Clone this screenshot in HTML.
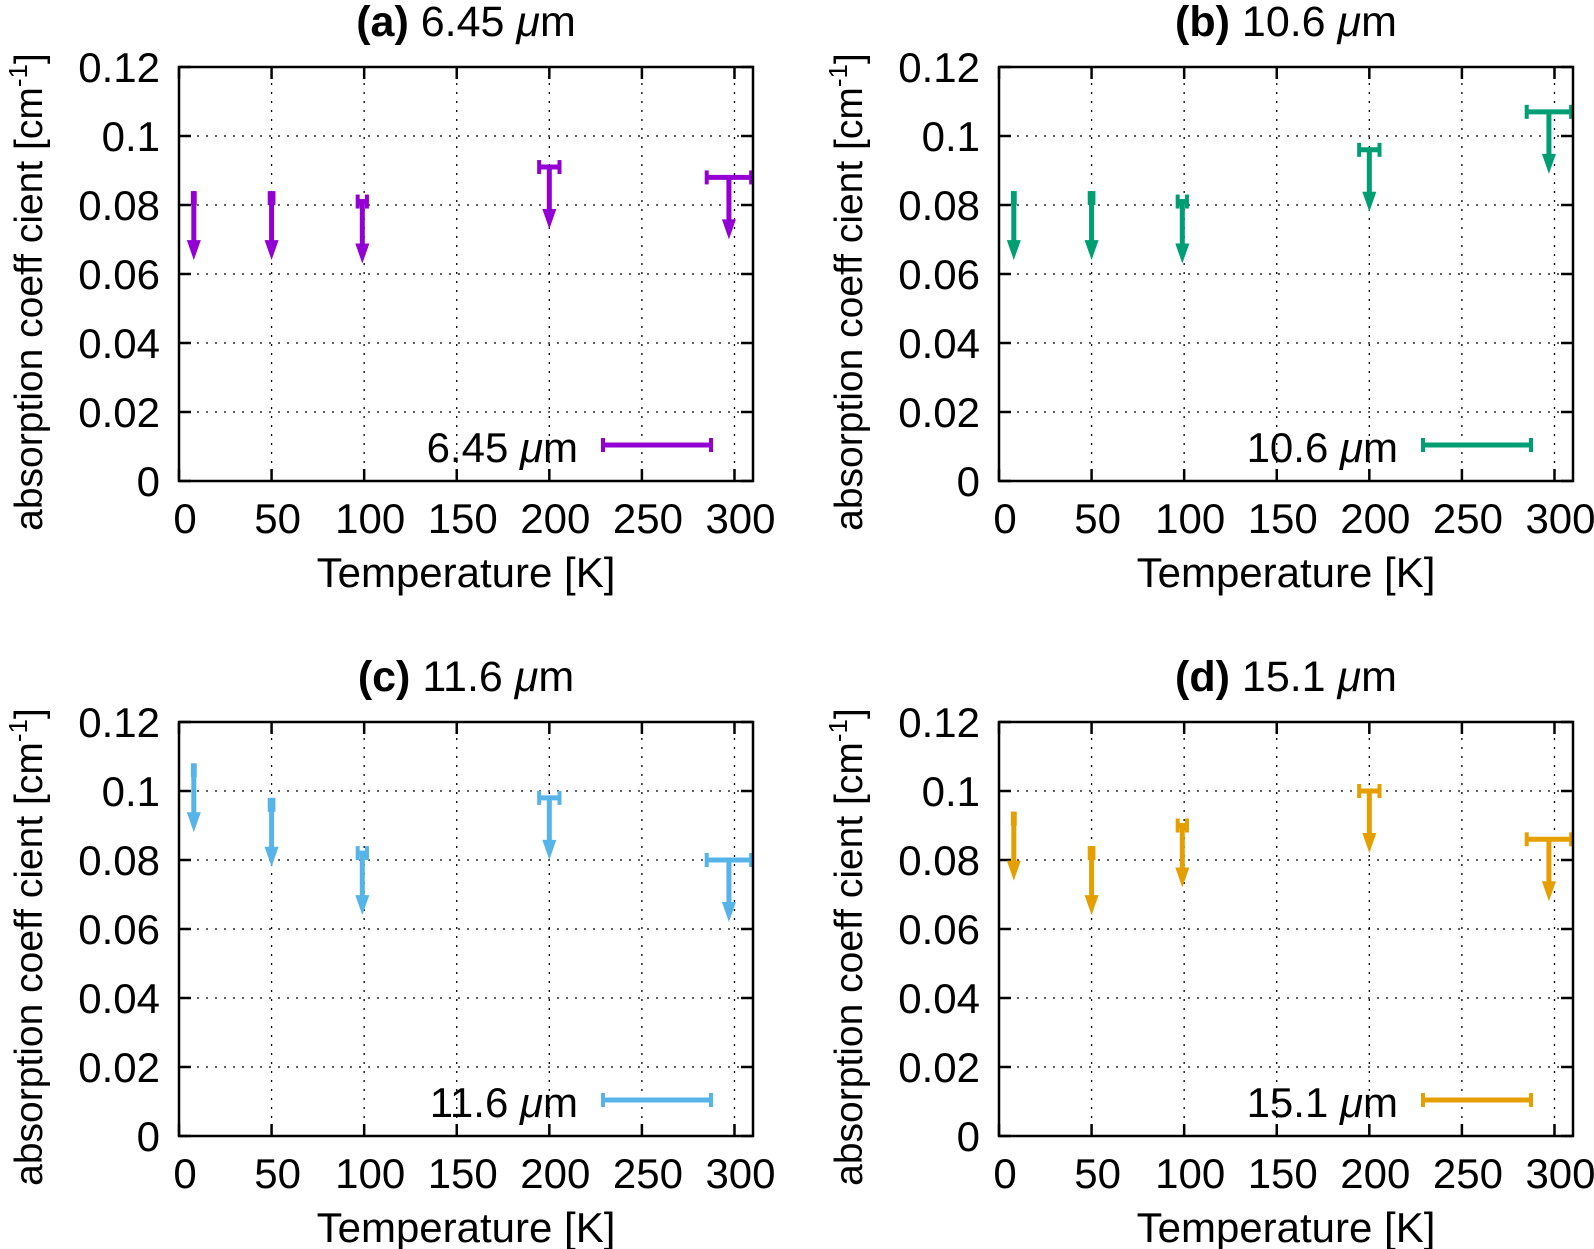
<!DOCTYPE html>
<html><head><meta charset="utf-8">
<style>
html,body{margin:0;padding:0;background:#fff;}
svg{display:block;font-family:"Liberation Sans",Arial,sans-serif;}
</style></head>
<body>
<svg id="fig" width="1594" height="1249" viewBox="0 0 1594 1249" xmlns="http://www.w3.org/2000/svg"></svg>
<script>
// ---- data ----
const panelTitles = ["(a)", "(b)", "(c)", "(d)"];
const panelWavelengths = ["6.45", "10.6", "11.6", "15.1"];
const panelColors = ["#9400d3", "#009e73", "#56b4e9", "#e69f00"];
const temperatures = [8, 50, 99, 200, 297];
const tempErrors = [0.5, 1, 2.5, 5.5, 12];
const limitsA = [0.082, 0.082, 0.081, 0.091, 0.088];
const limitsB = [0.082, 0.082, 0.081, 0.096, 0.107];
const limitsC = [0.106, 0.096, 0.082, 0.098, 0.080];
const limitsD = [0.092, 0.082, 0.090, 0.100, 0.086];
const seriesLimits = [limitsA, limitsB, limitsC, limitsD];
const xTicks = [0, 50, 100, 150, 200, 250, 300];
const yTicks = [0, 0.02, 0.04, 0.06, 0.08, 0.1, 0.12];
const yTickLabels = ["0", "0.02", "0.04", "0.06", "0.08", "0.1", "0.12"];

const NS = "http://www.w3.org/2000/svg";
const svg = document.getElementById("fig");
function mk(tag, attrs, parent, text) {
  const e = document.createElementNS(NS, tag);
  for (const k in attrs) e.setAttribute(k, attrs[k]);
  if (text !== undefined) e.textContent = text;
  parent.appendChild(e);
  return e;
}
const offsets = [[0, 0], [820, 0], [0, 655], [820, 655]];
const X0 = 179, X1 = 753, Y0 = 481, Y1 = 67;
const XMAX = 310, YMAX = 0.12;
const ARROW = 62;

for (let p = 0; p < 4; p++) {
  const [ox, oy] = offsets[p];
  const col = panelColors[p];
  const g = mk("g", { transform: `translate(${ox},${oy})` }, svg);
  
  
  const xs = v => X0 + (v / XMAX) * (X1 - X0);
  const ys = v => Y0 - (v / YMAX) * (Y0 - Y1);

  const grid = mk("g", { stroke: "#000", "stroke-width": 1.3, "stroke-dasharray": "2,7" }, g);
  
  
  xTicks.forEach(t => { if (t > 0) mk("line", { x1: xs(t), x2: xs(t), y1: Y0, y2: Y1 }, grid); });
  yTicks.forEach(t => { if (t > 0 && t < YMAX) mk("line", { x1: X0, x2: X1, y1: ys(t), y2: ys(t) }, grid); });

  const ticks = mk("g", { stroke: "#000", "stroke-width": 2.5 }, g);
  xTicks.forEach(t => {
    mk("line", { x1: xs(t), x2: xs(t), y1: Y0, y2: Y0 - 12 }, ticks);
    mk("line", { x1: xs(t), x2: xs(t), y1: Y1, y2: Y1 + 12 }, ticks);
  });
  yTicks.forEach(t => {
    mk("line", { x1: X0, x2: X0 + 12, y1: ys(t), y2: ys(t) }, ticks);
    mk("line", { x1: X1, x2: X1 - 12, y1: ys(t), y2: ys(t) }, ticks);
  });

  xTicks.forEach(t => {
    const tl = mk("text", { x: xs(t) + 6, y: 533, "font-size": 42, "text-anchor": "middle" }, g, String(t));
    
    
  });
  yTicks.forEach((t, i) => {
    const tl = mk("text", { x: 160, y: ys(t) + 15, "font-size": 42, "text-anchor": "end" }, g, yTickLabels[i]);
    
    
  });

  const xt = mk("text", { x: 466, y: 587, "font-size": 42, "text-anchor": "middle" }, g, "Temperature [K]");
  
  
  const yt = mk("text", { transform: `translate(42,${(Y0 + Y1) / 2 + 18}) rotate(-90)`, "font-size": 39, "text-anchor": "middle" }, g);
  
  
  mk("tspan", {}, yt, "absorption coeff cient [cm");
  mk("tspan", { "font-size": 26, dy: -15 }, yt, "-1");
  mk("tspan", { dy: 15 }, yt, "]");

  const tt = mk("text", { x: 466, y: 36, "font-size": 43, "text-anchor": "middle" }, g);
  
  
  mk("tspan", { "font-weight": "bold" }, tt, panelTitles[p]);
  mk("tspan", {}, tt, " " + panelWavelengths[p] + " ");
  mk("tspan", { "font-style": "italic" }, tt, "μ");
  mk("tspan", {}, tt, "m");

  const clip = mk("clipPath", { id: "clip" + p }, g);
  mk("rect", { x: X0, y: Y1, width: X1 - X0, height: Y0 - Y1 }, clip);
  const data = mk("g", { stroke: col, fill: col, "stroke-width": 5, "clip-path": `url(#clip${p})` }, g);
  
  
  const lim = seriesLimits[p];
  temperatures.forEach((T, i) => {
    const pt = mk("g", {}, data);
    
    
    const x = xs(T), y = ys(lim[i]);
    const xl = xs(T - tempErrors[i]), xr = xs(T + tempErrors[i]);
    mk("line", { x1: xl, x2: xr, y1: y, y2: y }, pt);
    mk("line", { x1: xl, x2: xl, y1: y - 7, y2: y + 7, "stroke-width": 4 }, pt);
    mk("line", { x1: xr, x2: xr, y1: y - 7, y2: y + 7, "stroke-width": 4 }, pt);
    mk("line", { x1: x, x2: x, y1: y, y2: y + ARROW - 16 }, pt);
    mk("polygon", { points: `${x - 7},${y + ARROW - 20} ${x + 7},${y + ARROW - 20} ${x},${y + ARROW}`, stroke: "none" }, pt);
  });
  const fr = mk("rect", { x: X0, y: Y1, width: X1 - X0, height: Y0 - Y1, fill: "none", stroke: "#000", "stroke-width": 2.5 }, g);
  
  

  const lg = mk("g", {}, g);
  
  
  const lt = mk("text", { x: 578, y: 462, "font-size": 42, "text-anchor": "end" }, lg);
  mk("tspan", {}, lt, panelWavelengths[p] + " ");
  mk("tspan", { "font-style": "italic" }, lt, "μ");
  mk("tspan", {}, lt, "m");
  const ls = mk("g", { stroke: col, "stroke-width": 5 }, lg);
  mk("line", { x1: 603, x2: 711, y1: 445, y2: 445 }, ls);
  mk("line", { x1: 603, x2: 603, y1: 438, y2: 452, "stroke-width": 4 }, ls);
  mk("line", { x1: 711, x2: 711, y1: 438, y2: 452, "stroke-width": 4 }, ls);
}
</script>
</body></html>
